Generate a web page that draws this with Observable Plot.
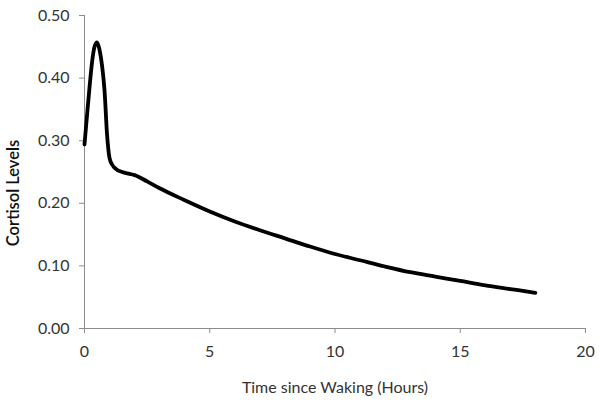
<!DOCTYPE html>
<html>
<head>
<meta charset="utf-8">
<script src="https://cdn.jsdelivr.net/npm/d3@7"></script>
<script src="https://cdn.jsdelivr.net/npm/@observablehq/plot@0.6"></script>
<style>
  html, body { margin: 0; padding: 0; background: #fff; }
  #chart { width: 600px; height: 409px; }
</style>
</head>
<body>
<div id="chart"></div>
<script>
const hours = [0, 0.1, 0.2, 0.3, 0.4, 0.5, 0.6, 0.7, 0.8, 0.9, 1.0, 1.1, 1.25, 1.5, 1.8, 2.0, 2.5, 3, 4, 5, 6, 7, 8, 9, 10, 11, 12, 13, 14, 15, 16, 17, 18];
const cortisol = [0.294, 0.34, 0.385, 0.425, 0.45, 0.457, 0.445, 0.42, 0.38, 0.31, 0.272, 0.262, 0.255, 0.250, 0.247, 0.245, 0.235, 0.224, 0.205, 0.187, 0.171, 0.157, 0.144, 0.131, 0.119, 0.109, 0.099, 0.090, 0.083, 0.076, 0.069, 0.063, 0.057];
const xTicks = [0, 5, 10, 15, 20];
const yTicks = [0, 0.1, 0.2, 0.3, 0.4, 0.5];
const xLabel = "Time since Waking (Hours)";
const yLabel = "Cortisol Levels";

const data = hours.map((h, i) => ({h, c: cortisol[i]}));
const axisColor = "#8c8c8c";
const textColor = "#333";

const chart = Plot.plot({
  width: 600,
  height: 409,
  marginLeft: 84,
  marginRight: 15,
  marginTop: 15,
  marginBottom: 81,
  style: {fontFamily: "Lato, 'Open Sans', sans-serif", fontSize: "16px", color: textColor, background: "#fff"},
  x: {domain: [0, 20]},
  y: {domain: [0, 0.5]},
  marks: [
    Plot.ruleX([0], {stroke: axisColor, strokeWidth: 1}),
    Plot.ruleY([0], {stroke: axisColor, strokeWidth: 1}),
    Plot.axisX({ticks: xTicks, tickSize: 5, tickPadding: 12, stroke: axisColor, fill: textColor, label: null, fontSize: 16}),
    Plot.axisY({ticks: yTicks, tickSize: 5, tickPadding: 10, stroke: axisColor, fill: textColor, tickFormat: d3.format(".2f"), label: null, fontSize: 16}),
    Plot.text([xLabel], {frameAnchor: "bottom", dy: 64, fill: textColor, fontSize: 16}),
    Plot.text([yLabel], {frameAnchor: "left", textAnchor: "middle", dx: -71, dy: 21, rotate: -90, fill: "#111", fontSize: 16.5, fontWeight: 600}),
    Plot.line(data, {x: "h", y: "c", stroke: "black", strokeWidth: 3.8, curve: "monotone-x", strokeLinejoin: "round", strokeLinecap: "round"})
  ]
});
document.getElementById("chart").appendChild(chart);
</script>
</body>
</html>
